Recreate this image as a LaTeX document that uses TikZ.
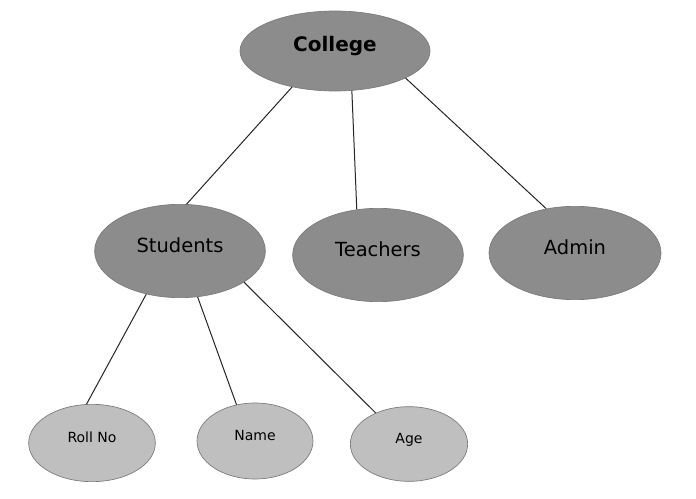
\documentclass[tikz,border=0pt]{standalone}
\usepackage{fontspec}
\setmainfont{DejaVu Sans}
\usepackage{xcolor}
\usepackage{tikz}
\usetikzlibrary{
  shapes.geometric,
  positioning
}
\definecolor{orgDark}{HTML}{8C8C8C}
\definecolor{orgLight}{HTML}{BFBFBF}
\definecolor{orgEdge}{HTML}{7A7A7A}
\definecolor{orgLine}{HTML}{262626}
\tikzset{
  orgnode/.style={
    ellipse, draw=orgEdge, line width=0.5pt, inner sep=0pt, align=center
  },
  topnode/.style={orgnode, fill=orgDark, font=\fontsize{15}{18}\selectfont\bfseries,
    text height=10pt, text depth=8.5pt},
  midnode/.style={orgnode, fill=orgDark, font=\fontsize{14.6}{17}\selectfont,
    text height=10pt, text depth=8.5pt},
  leafnode/.style={orgnode, fill=orgLight, font=\fontsize{10.5}{12}\selectfont,
    text height=7pt, text depth=8.4pt},
  link/.style={line width=0.75pt, orgLine}
}
\begin{document}
\begin{tikzpicture}[x=0.75pt, y=-0.75pt]
  \fill[white] (0,0) rectangle (696,499);
  \useasboundingbox (0,0) rectangle (696,499);
  \node[topnode, minimum width=142.5pt, minimum height=60pt] (college) at (335,51) {College};
  \node[midnode, minimum width=128pt, minimum height=70pt] (students) at (180,251) {Students};
  \node[midnode, minimum width=128pt, minimum height=70pt] (teachers) at (378,255) {Teachers};
  \node[midnode, minimum width=129pt, minimum height=70pt] (admin) at (575,253) {Admin};
  \node[leafnode, minimum width=95pt, minimum height=58pt] (rollno) at (92,443) {Roll No};
  \node[leafnode, minimum width=87pt, minimum height=57pt] (name) at (255,441) {Name};
  \node[leafnode, minimum width=88pt, minimum height=56pt] (age) at (409,444) {Age};
  % college to departments
  \draw[link] (college.220) -- (students.82);
  \draw[link] (college.293) -- (teachers.115);
  \draw[link] (college.339) -- (admin.123);
  % students to fields
  \draw[link] (students.232) -- (rollno.98);
  \draw[link] (students.291) -- (name.117);
  \draw[link] (students.334) -- (age.137);
\end{tikzpicture}
\end{document}
